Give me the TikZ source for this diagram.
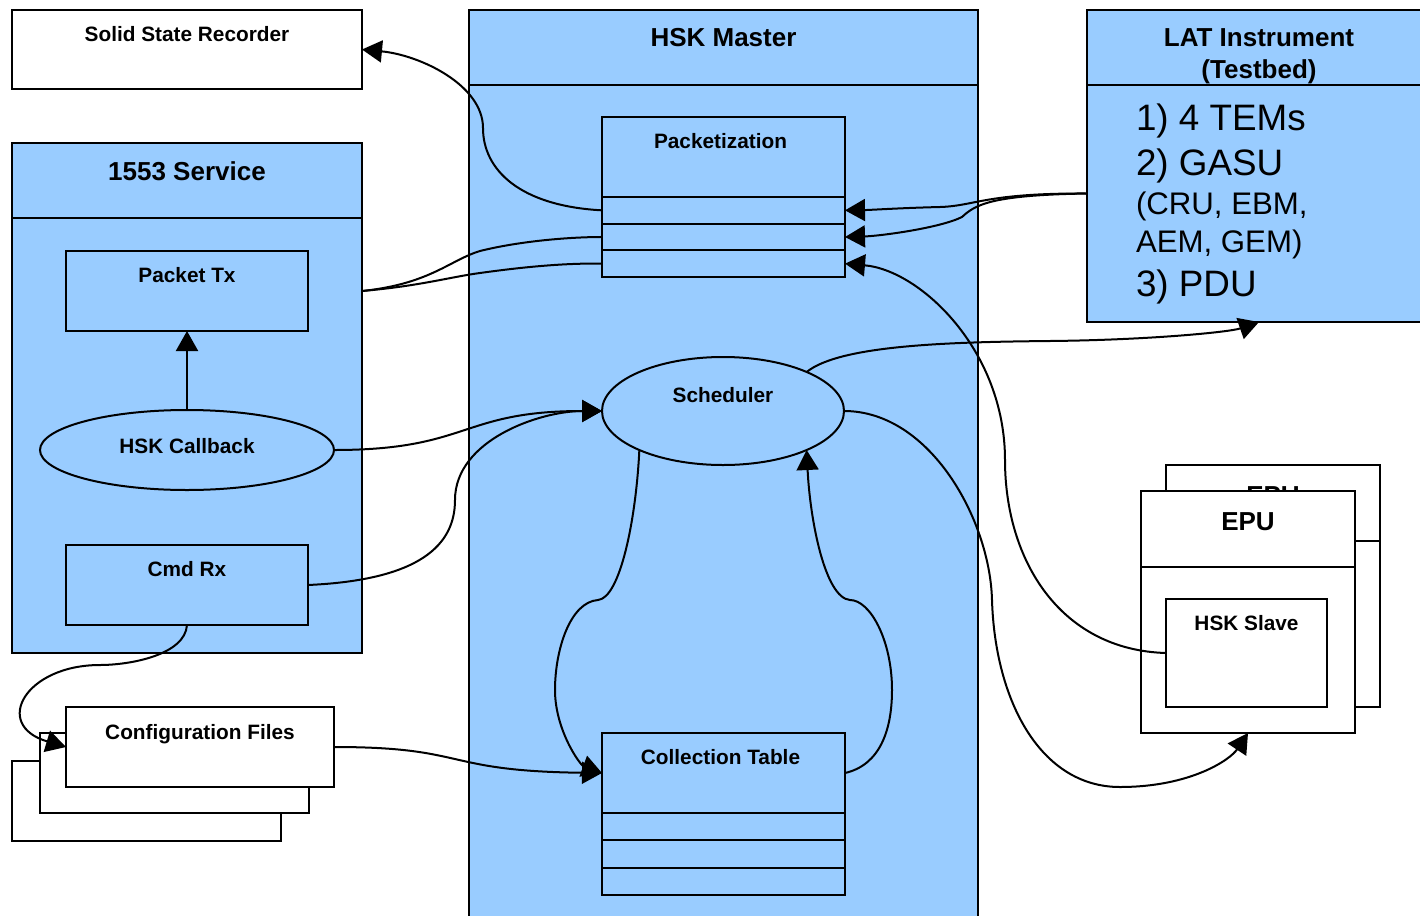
\documentclass[tikz,border=0pt]{standalone}
\usepackage{fontspec}
\setmainfont{Liberation Sans}
\usetikzlibrary{arrows.meta,positioning,shapes.geometric}
\definecolor{skyfill}{HTML}{99CCFF}

\begin{document}
\begin{tikzpicture}[x=0.5pt, y=-0.5pt, line width=1pt, >={Triangle[length=10pt,width=11pt]},
    box/.style={draw, rectangle, anchor=north west, inner sep=0, outer sep=0, fill=skyfill},
    plain/.style={box, fill=white},
    oval/.style={draw, ellipse, inner sep=0, outer sep=0, fill=skyfill},
    small/.style={font=\bfseries\fontsize{10.4}{12}\selectfont, anchor=base, inner sep=0},
    big/.style={font=\bfseries\fontsize{13}{15}\selectfont, anchor=base, inner sep=0},
    item/.style={anchor=base west, inner sep=0}]
    \useasboundingbox (0,0) rectangle (1420,916);

    % Blocs principaux
    \node[plain, minimum width=175pt, minimum height=39.5pt] (ssr) at (12,10) {};
    \node[box, minimum width=254.5pt, minimum height=420pt] (hskbody) at (469,85) {};
    \node[box, minimum width=254.5pt, minimum height=37.5pt] (hskhead) at (469,10) {};
    \node[box, minimum width=172pt, minimum height=37.5pt] (lathead) at (1087,10) {};
    \node[box, minimum width=172pt, minimum height=118.5pt] (latbody) at (1087,85) {};
    \node[box, minimum width=175pt, minimum height=37.5pt] (svchead) at (12,143) {};
    \node[box, minimum width=175pt, minimum height=217.5pt] (svcbody) at (12,218) {};

    \node[small] (ssrt) at ([yshift=-15.5pt]ssr.north) {Solid State Recorder};
    \node[big] (hskt) at ([yshift=-18pt]hskhead.north) {HSK Master};
    \node[big] (latt1) at ([yshift=-18pt]lathead.north) {LAT Instrument};
    \node[big] (latt2) at ([yshift=-34pt]lathead.north) {(Testbed)};
    \node[big] (svct) at ([yshift=-18.5pt]svchead.north) {1553 Service};

    % Contenu LAT
    \node[item, font=\fontsize{18.4}{20}\selectfont] (lat1) at ([xshift=24pt, yshift=-22.5pt]latbody.north west) {1) 4 TEMs};
    \node[item, font=\fontsize{18.4}{20}\selectfont] (lat2) at ([xshift=24pt, yshift=-45pt]latbody.north west) {2) GASU};
    \node[item, font=\fontsize{15.6}{18}\selectfont] (lat3) at ([xshift=24pt, yshift=-64.5pt]latbody.north west) {(CRU, EBM,};
    \node[item, font=\fontsize{15.6}{18}\selectfont] (lat4) at ([xshift=24pt, yshift=-83.5pt]latbody.north west) {AEM, GEM)};
    \node[item, font=\fontsize{18.4}{20}\selectfont] (lat5) at ([xshift=24pt, yshift=-105.5pt]latbody.north west) {3) PDU};

    % 1553 Service
    \node[box, minimum width=121pt, minimum height=40pt] (pkttx) at (66,251) {};
    \node[oval, minimum width=147pt, minimum height=40pt] (callback) at (187,450) {};
    \node[box, minimum width=121pt, minimum height=40pt] (cmdrx) at (66,545) {};
    \node[small] (pkttxt) at ([yshift=-15.5pt]pkttx.north) {Packet Tx};
    \node[small] (callbackt) at ([yshift=-1.5pt]callback.center) {HSK Callback};
    \node[small] (cmdrxt) at ([yshift=-15.5pt]cmdrx.north) {Cmd Rx};

    % HSK Master
    \node[box, minimum width=121.5pt, minimum height=40pt] (pkthead) at (602,117) {};
    \node[box, minimum width=121.5pt, minimum height=13.33pt] (pktrow1) at (pkthead.south west) {};
    \node[box, minimum width=121.5pt, minimum height=13.33pt] (pktrow2) at (pktrow1.south west) {};
    \node[box, minimum width=121.5pt, minimum height=13.33pt] (pktrow3) at (pktrow2.south west) {};
    \node[small] (pktt) at ([xshift=-1.5pt, yshift=-15.5pt]pkthead.north) {Packetization};

    \node[oval, minimum width=121pt, minimum height=54pt] (sched) at (723,411) {};
    \node[small] (schedt) at ([yshift=4.5pt]sched.center) {Scheduler};

    \node[box, minimum width=121.5pt, minimum height=40pt] (colhead) at (602,733) {};
    \node[box, minimum width=121.5pt, minimum height=13.67pt] (colrow1) at (colhead.south west) {};
    \node[box, minimum width=121.5pt, minimum height=13.67pt] (colrow2) at (colrow1.south west) {};
    \node[box, minimum width=121.5pt, minimum height=13.67pt] (colrow3) at (colrow2.south west) {};
    \node[small] (colt) at ([xshift=-1.5pt, yshift=-15.5pt]colhead.north) {Collection Table};

    % EPU (deux cartes)
    \node[plain, minimum width=107pt, minimum height=38pt] (epubackhead) at (1166,465) {};
    \node[plain, minimum width=107pt, minimum height=83pt] (epubackbody) at (epubackhead.south west) {};
    \node[big] (epubackt) at ([yshift=-19.5pt]epubackhead.north) {EPU};
    \node[plain, minimum width=107pt, minimum height=38pt] (epuhead) at (1141,491) {};
    \node[plain, minimum width=107pt, minimum height=83pt] (epubody) at (epuhead.south west) {};
    \node[big] (eput) at ([yshift=-19.5pt]epuhead.north) {EPU};
    \node[plain, minimum width=80.5pt, minimum height=54pt] (slave) at (1166,599) {};
    \node[small] (slavet) at ([yshift=-15.5pt]slave.north) {HSK Slave};

    % Fichiers de configuration
    \node[plain, minimum width=134.5pt, minimum height=40pt] (cfg3) at (12,761) {};
    \node[plain, minimum width=134.5pt, minimum height=40pt] (cfg2) at (40,733) {};
    \node[plain, minimum width=134pt, minimum height=40pt] (cfg) at (66,707) {};
    \node[small] (cfgt) at ([yshift=-16pt]cfg.north) {Configuration Files};

    % Liaisons
    \draw[->] (callback.north) -- (pkttx.south);
    \draw[->] (pktrow1.west) .. controls (520,206) and (483,170) .. (483,128)
                             .. controls (483,85) and (420,55) .. (ssr.east);
    \draw[->] ([yshift=5pt]latbody.west) .. controls (985,193) and (975,206) .. (940,207)
                                         .. controls (900,208) and (870,210) .. (pktrow1.east);
    \draw[->] ([yshift=5pt]latbody.west) .. controls (990,195) and (975,205) .. (962,217)
                                         .. controls (940,228) and (880,236) .. (pktrow2.east);
    \draw (svcbody.east |- pkttx.east) .. controls (430,284) and (450,260) .. (480,251)
                                       .. controls (520,241) and (570,237) .. (pktrow2.west);
    \draw (svcbody.east |- pkttx.east) .. controls (420,286) and (450,277) .. (480,273)
                                       .. controls (530,266) and (570,263) .. (pktrow3.west);
    \draw[->] (callback.east) .. controls (470,450) and (460,411) .. (sched.west);
    \draw[->] (cmdrx.east) .. controls (420,580) and (455,545) .. (455,500)
                           .. controls (455,440) and (540,411) .. (sched.west);
    \draw[->] (cmdrx.south) .. controls (185,655) and (130,665) .. (100,665)
                            .. controls (25,665) and (-8,725) .. (cfg.west);
    \draw[->] (cfg.east) .. controls (470,747) and (440,771) .. (colhead.west);
    \draw[->] (sched.205) .. controls (636,520) and (620,598) .. (598,600)
                          .. controls (570,602) and (555,650) .. (555,690)
                          .. controls (555,730) and (580,765) .. (colhead.west);
    \draw[->] (colhead.east) .. controls (880,765) and (892,730) .. (892,690)
                             .. controls (892,640) and (870,600) .. (850,600)
                             .. controls (825,598) and (810,520) .. (sched.335);
    \draw[->] (sched.25) .. controls (840,345) and (950,342) .. (1050,341)
                         .. controls (1150,340) and (1230,332) .. (latbody.south);
    \draw[->] (sched.east) .. controls (930,411) and (990,520) .. (992,600)
                           .. controls (995,700) and (1040,787) .. (1120,787)
                           .. controls (1190,787) and (1230,760) .. (epubody.south);
    \draw[->] (slave.west) .. controls (1060,650) and (1005,560) .. (1005,460)
                           .. controls (1005,350) and (920,270) .. (pktrow3.east);
\end{tikzpicture}
\end{document}
